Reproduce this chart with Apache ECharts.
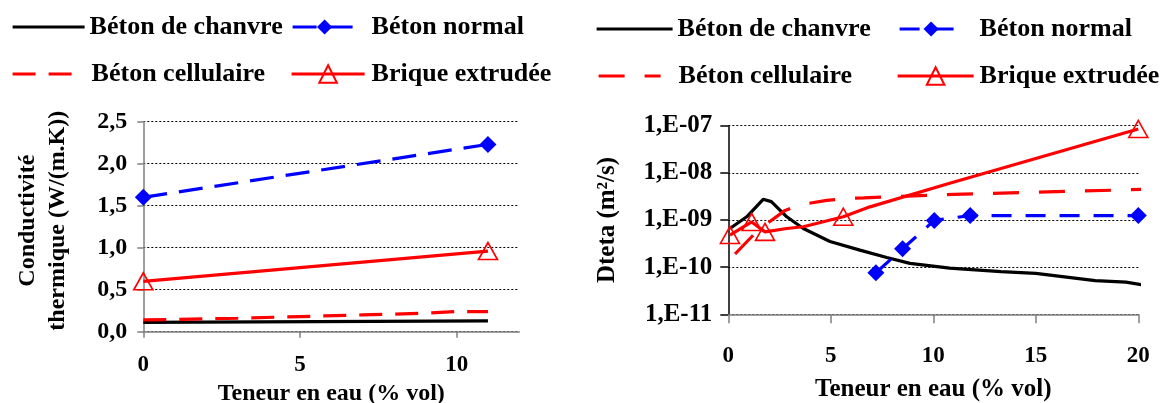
<!DOCTYPE html>
<html><head><meta charset="utf-8">
<script src="https://cdn.jsdelivr.net/npm/echarts@6/dist/echarts.min.js"></script>
<style>
html,body{margin:0;padding:0;background:#fff;width:1165px;height:403px;overflow:hidden}
#l{position:absolute;left:0;top:0;width:580px;height:403px}
#r{position:absolute;left:580px;top:0;width:585px;height:403px}
</style></head>
<body><div id="l"></div><div id="r"></div>
<script>
// ---------- texts ----------
const seriesNames = ['Béton de chanvre', 'Béton normal', 'Béton cellulaire', 'Brique extrudée'];
const xTitle = 'Teneur en eau (% vol)';
const yTitleLeft = 'Conductivité\nthermique (W/(m.K))';
const yTitleRight = 'Dteta (m²/s)';
const leftXTicks = [0, 5, 10];
const leftYTickLabels = ['0,0', '0,5', '1,0', '1,5', '2,0', '2,5'];
const rightYTickLabels = ['1,E-11', '1,E-10', '1,E-09', '1,E-08', '1,E-07'];

// ---------- left chart data (thermal conductivity) ----------
const leftChanvreX = [0, 11];
const leftChanvreY = [0.11, 0.13];
const leftNormalX = [0, 11];
const leftNormalY = [1.60, 2.23];
const leftCellX = [0, 3, 5, 7, 9, 10, 11];
const leftCellY = [0.14, 0.16, 0.18, 0.20, 0.22, 0.24, 0.24];
const leftBriqueX = [0, 11];
const leftBriqueY = [0.60, 0.96];

// ---------- right chart data (Dteta) ----------
const rightChanvreX = [0.08, 0.9, 1.7, 2.1, 2.85, 3.66, 4.96, 6.42, 7.73, 8.86, 10.8, 13.3, 15, 17.9, 19.4, 20.57];
const rightChanvreY = [6.6e-10, 1.17e-9, 2.75e-9, 2.45e-9, 1.17e-9, 6.6e-10, 3.5e-10, 2.3e-10, 1.6e-10, 1.2e-10, 9.5e-11, 8e-11, 7.4e-11, 5.2e-11, 4.8e-11, 4.0e-11];
const rightNormalX = [7.2, 8.5, 10.05, 11.8, 20];
const rightNormalY = [7.6e-11, 2.45e-10, 9.8e-10, 1.24e-9, 1.24e-9];
const rightCellX = [0.33, 1.22, 1.79, 2.77, 3.5, 4.8, 5.85, 6.6, 11, 20.6];
const rightCellY = [1.9e-10, 4.8e-10, 7.8e-10, 1.6e-9, 2.1e-9, 2.6e-9, 2.9e-9, 2.95e-9, 3.5e-9, 4.5e-9];
const rightBriqueX = [0.08, 1.14, 1.79, 2.85, 3.66, 5.61, 6.91, 10.8, 20];
const rightBriqueY = [4.8e-10, 9.1e-10, 5.6e-10, 6.6e-10, 7.2e-10, 1.17e-9, 1.9e-9, 6e-9, 8.5e-8];
const rightBriqueMeasured = [true, true, true, false, false, true, false, false, true];

// ---------- helpers ----------
const FONT = '"Liberation Serif", "Times New Roman", serif';
const zip = (xs, ys) => xs.map((x, i) => [x, ys[i]]);
const BLUE = '#0000ff', RED = '#ff0000', BLACK = '#000000', GREY = '#808080';

function lineSeries(name, data, color, dash, symbol) {
  const s = {
    name, type: 'line', data, clip: false, animation: false,
    lineStyle: { color, width: 3.2, type: dash || 'solid' },
    itemStyle: { color },
    symbol: symbol || 'none',
    showSymbol: !!symbol,
    emphasis: { disabled: true }
  };
  if (symbol === 'diamond') { s.symbolSize = 17; }
  if (symbol === 'triangle') {
    s.symbolSize = [19, 17];
    s.itemStyle = { color: 'rgba(255,255,255,0)', borderColor: color, borderWidth: 1.6 };
  }
  return s;
}

function legend(name, left, top, itemWidth, textPad, itemHeight, hideSymbol) {
  const lg = {
    data: [name], left, top, itemWidth, itemHeight, padding: 0, itemGap: 0,
    selectedMode: false,
    lineStyle: { width: 3.2 },
    textStyle: { fontFamily: FONT, fontWeight: 'bold', fontSize: 26, color: '#000',
      padding: [0, 0, 0, textPad || 0] }
  };
  if (hideSymbol) lg.itemStyle = { opacity: 0 };
  return lg;
}

const axisFont = { fontFamily: FONT, fontWeight: 'bold', color: '#000' };

// ---------- left chart ----------
const cl = echarts.init(document.getElementById('l'), null, { renderer: 'canvas' });
cl.setOption({
  animation: false,
  backgroundColor: '#fff',
  grid: { left: 143.3, right: 60.7, top: 121.7, bottom: 71.3, containLabel: false, outerBoundsMode: 'none' },
  legend: [
    legend(seriesNames[0], 11, 14, 72, 0, 16, true),
    legend(seriesNames[1], 291, 14, 64, 10, 19, false),
    legend(seriesNames[2], 11, 61, 62, 12, 16, true),
    legend(seriesNames[3], 290, 61, 73, 2, 22, false)
  ],
  xAxis: {
    type: 'value', min: 0, max: 12, interval: 5,
    name: xTitle, nameLocation: 'middle', nameGap: 49,
    nameTextStyle: Object.assign({ fontSize: 24 }, axisFont),
    axisLine: { lineStyle: { color: GREY, width: 1.5 } },
    axisTick: { length: 6, lineStyle: { color: GREY, width: 1.5 }, customValues: leftXTicks },
    axisLabel: Object.assign({ fontSize: 23, margin: 22, customValues: leftXTicks }, axisFont),
    splitLine: { show: false }
  },
  yAxis: {
    type: 'value', min: 0, max: 2.5, interval: 0.5,
    name: yTitleLeft, nameLocation: 'middle', nameGap: 71, nameRotate: 90,
    nameTextStyle: Object.assign({ fontSize: 24, lineHeight: 30, align: 'center', padding: [0, 0, 0, 12] }, axisFont),
    axisLine: { show: true, lineStyle: { color: GREY, width: 1.5 } },
    axisTick: { show: true, length: 6, lineStyle: { color: GREY, width: 1.5 } },
    axisLabel: Object.assign({ fontSize: 24, margin: 16,
      formatter: v => leftYTickLabels[Math.round(v / 0.5)] }, axisFont),
    splitLine: { show: true, lineStyle: { color: '#000', width: 1, type: [2, 2] } }
  },
  series: [
    lineSeries(seriesNames[0], zip(leftChanvreX, leftChanvreY), BLACK),
    lineSeries(seriesNames[2], zip(leftCellX, leftCellY), RED, [23, 13]),
    lineSeries(seriesNames[3], zip(leftBriqueX, leftBriqueY), RED, 'solid', 'triangle'),
    lineSeries(seriesNames[1], zip(leftNormalX, leftNormalY), BLUE, [24, 12], 'diamond')
  ]
});

// ---------- right chart ----------
const cr = echarts.init(document.getElementById('r'), null, { renderer: 'canvas' });
const briqueData = rightBriqueX.map((x, i) => rightBriqueMeasured[i]
  ? { value: [x, rightBriqueY[i]] }
  : { value: [x, rightBriqueY[i]], symbol: 'none' });
cr.setOption({
  animation: false,
  backgroundColor: '#fff',
  grid: { left: 148.3, right: 26.7, top: 125.7, bottom: 88.7, containLabel: false, outerBoundsMode: 'none' },
  legend: [
    legend(seriesNames[0], 15, 16, 76, 0, 16, true),
    legend(seriesNames[1], 318, 16, 63, 12, 19, false),
    legend(seriesNames[2], 17, 63, 62, 13, 16, true),
    legend(seriesNames[3], 316, 63, 76, 1, 22, false)
  ],
  xAxis: {
    type: 'value', min: 0, max: 20, interval: 5,
    name: xTitle, nameLocation: 'middle', nameGap: 63,
    nameTextStyle: Object.assign({ fontSize: 25 }, axisFont),
    axisLine: { lineStyle: { color: GREY, width: 1.5 } },
    axisTick: { length: 9, lineStyle: { color: GREY, width: 1.5 } },
    axisLabel: Object.assign({ fontSize: 23, margin: 30 }, axisFont),
    splitLine: { show: false }
  },
  yAxis: {
    type: 'log', logBase: 10, min: 1e-11, max: 1e-7,
    name: yTitleRight, nameLocation: 'middle', nameGap: 108, nameRotate: 90,
    nameTextStyle: Object.assign({ fontSize: 25 }, axisFont),
    axisLine: { show: true, lineStyle: { color: BLACK, width: 1.5 } },
    axisTick: { show: true, length: 8, lineStyle: { color: BLACK, width: 1.5 } },
    axisLabel: Object.assign({ fontSize: 25, margin: 16,
      formatter: v => rightYTickLabels[Math.round(Math.log10(v)) + 11] }, axisFont),
    splitLine: { show: true, lineStyle: { color: '#000', width: 1, type: [2, 2] } },
    minorTick: { show: false }
  },
  series: [
    lineSeries(seriesNames[0], zip(rightChanvreX, rightChanvreY), BLACK),
    lineSeries(seriesNames[1], zip(rightNormalX, rightNormalY), BLUE, [20, 14], 'diamond'),
    lineSeries(seriesNames[2], zip(rightCellX, rightCellY), RED, [26, 20]),
    Object.assign(lineSeries(seriesNames[3], briqueData, RED, 'solid', 'triangle'), { showSymbol: true })
  ]
});
</script>
</body></html>
